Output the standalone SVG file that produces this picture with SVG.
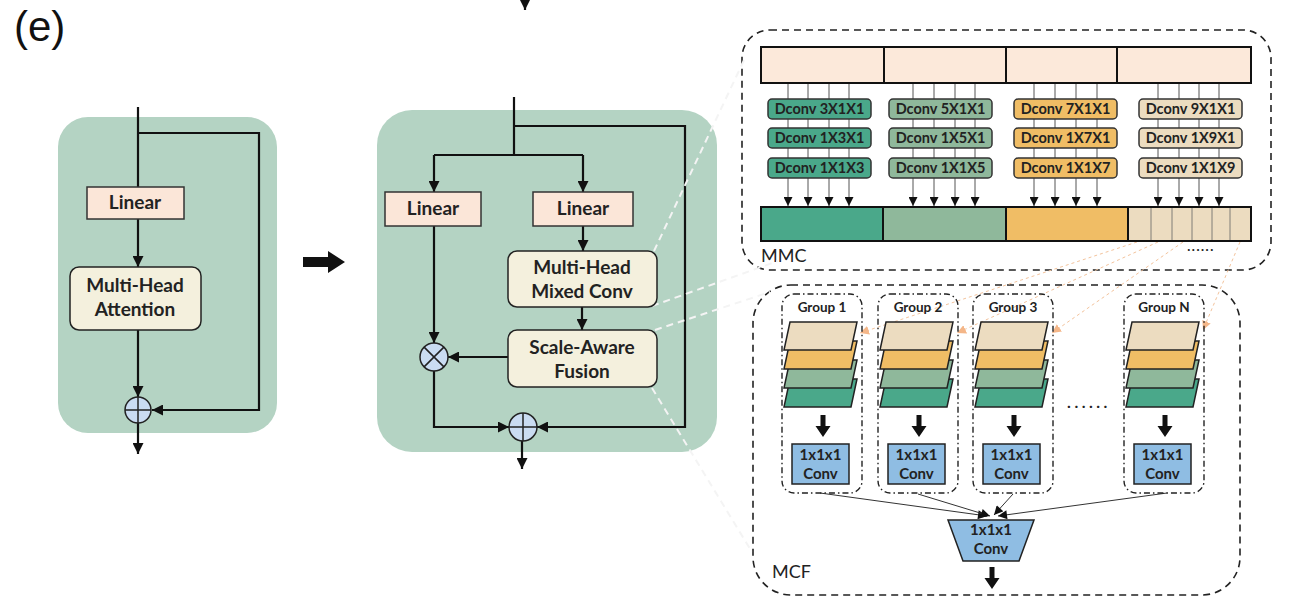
<svg xmlns="http://www.w3.org/2000/svg" width="1315" height="614" viewBox="0 0 1315 614">
<defs>
<style>
.panel{fill:#b4d3c3;}
.lin{fill:#fbe6d8;stroke:#333;stroke-width:1.5;}
.blk{fill:#f4f0dd;stroke:#222;stroke-width:1.5;}
.conn{fill:none;stroke:#111;stroke-width:2.2;}
.t{font-family:Lato,"Open Sans","Liberation Sans",sans-serif;font-weight:700;fill:#222;text-anchor:middle;}
.t18{font-size:19px;}
.t14{font-size:14.5px;}
.t13{font-size:15px;}
.t12{font-size:13.5px;}
.lab{font-family:Lato,"Open Sans","Liberation Sans",sans-serif;font-size:18px;fill:#222;}
.dash{fill:none;stroke:#222;stroke-width:1.6;stroke-dasharray:7 5;}
.dd{fill:none;stroke:#222;stroke-width:1.4;stroke-dasharray:6 3 1.5 3;}
.dc{stroke:#333;stroke-width:1.5;}
.c1{fill:#4aa88a;}
.c2{fill:#8fb89b;}
.c3{fill:#f0bd65;}
.c4{fill:#ecdcc0;}
.vl{stroke:#555;stroke-width:1;fill:none;}
.circ{fill:#cadcf2;stroke:#222;stroke-width:1.5;}
.cv{fill:#8fbde3;stroke:#222;stroke-width:1.5;}
.par{stroke:#222;stroke-width:1.5;}
.wd{fill:none;stroke:#f4f4f4;stroke-width:2;stroke-dasharray:7 5;}
.od{fill:none;stroke:#f3c39c;stroke-width:1;stroke-dasharray:3 3;}
.thin{fill:none;stroke:#333;stroke-width:1;}
</style>
<marker id="ah" viewBox="0 0 10 10" refX="10" refY="5" markerWidth="11" markerHeight="11" markerUnits="userSpaceOnUse" orient="auto"><path d="M0,0 L10,5 L0,10 z" fill="#111"/></marker>
<marker id="sh" viewBox="0 0 10 10" refX="10" refY="5" markerWidth="10" markerHeight="9" markerUnits="userSpaceOnUse" orient="auto"><path d="M0,0 L10,5 L0,10 z" fill="#111"/></marker>
<marker id="oh" viewBox="0 0 10 10" refX="10" refY="5" markerWidth="9" markerHeight="9" markerUnits="userSpaceOnUse" orient="auto"><path d="M0,0 L10,5 L0,10 z" fill="#f4b688"/></marker>
</defs>
<rect width="1315" height="614" fill="#ffffff"/>
<text x="14" y="41" font-family="Liberation Sans, Arial, sans-serif" font-size="42" fill="#111">(e)</text>

<g id="panel-left"><rect class="panel" x="58" y="117" width="219" height="316" rx="30"/></g>
<g id="panel-mid"><rect class="panel" x="377" y="110" width="340" height="342" rx="35"/></g>

<g id="big-arrow"><polygon points="303,257 328,257 328,251 345,262 328,273 328,267 303,267" fill="#111"/></g>

<g id="mmc-box">
<rect class="dash" x="742" y="30" width="529" height="240" rx="28"/>
<text class="lab" x="761" y="262">MMC</text>
<text class="t" x="1201" y="251" font-size="13" letter-spacing="1.5">......</text>
</g>
<g id="mcf-box">
<rect class="dash" x="753" y="285" width="487" height="310" rx="38"/>
<text class="lab" x="772" y="578">MCF</text>
<text class="t" x="1089" y="408" font-size="16" letter-spacing="3.5">......</text>
</g>

<g id="connectors">
<path class="conn" d="M138 107 V187"/>
<path class="conn" d="M138 133 H259 V410 H152" marker-end="url(#ah)"/>
<path class="conn" d="M138 219 V267" marker-end="url(#ah)"/>
<path class="conn" d="M138 330 V397" marker-end="url(#ah)"/>
<path class="conn" d="M138 423 V454" marker-end="url(#ah)"/>
<path class="conn" d="M525 0 V10" marker-end="url(#ah)"/>
<path class="conn" d="M514 97 V155"/>
<path class="conn" d="M514 126 H685 V427 H537" marker-end="url(#ah)"/>
<path class="conn" d="M434 155 H583"/>
<path class="conn" d="M434 155 V192" marker-end="url(#ah)"/>
<path class="conn" d="M583 155 V192" marker-end="url(#ah)"/>
<path class="conn" d="M583 226 V251" marker-end="url(#ah)"/>
<path class="conn" d="M582 307 V330" marker-end="url(#ah)"/>
<path class="conn" d="M434 226 V343" marker-end="url(#ah)"/>
<path class="conn" d="M508 357 H448" marker-end="url(#ah)"/>
<path class="conn" d="M434 371 V427 H509" marker-end="url(#ah)"/>
<path class="conn" d="M522 441 V469" marker-end="url(#ah)"/>
<path class="wd" d="M654 251 L745 58"/>
<path class="wd" d="M652 306 L778 261"/>
<path class="wd" d="M655 330 L770 292"/>
<path class="wd" d="M652 388 L752 552"/>
<g class="vl">
<path d="M788 83 V206" marker-end="url(#sh)"/><path d="M808 83 V206" marker-end="url(#sh)"/><path d="M829 83 V206" marker-end="url(#sh)"/><path d="M849 83 V206" marker-end="url(#sh)"/>
<path d="M913 83 V206" marker-end="url(#sh)"/><path d="M934 83 V206" marker-end="url(#sh)"/><path d="M955 83 V206" marker-end="url(#sh)"/><path d="M975 83 V206" marker-end="url(#sh)"/>
<path d="M1034 83 V206" marker-end="url(#sh)"/><path d="M1055 83 V206" marker-end="url(#sh)"/><path d="M1076 83 V206" marker-end="url(#sh)"/><path d="M1097 83 V206" marker-end="url(#sh)"/>
<path d="M1158 83 V206" marker-end="url(#sh)"/><path d="M1179 83 V206" marker-end="url(#sh)"/><path d="M1199 83 V206" marker-end="url(#sh)"/><path d="M1219 83 V206" marker-end="url(#sh)"/>
</g>
<path class="od" d="M1137 242 L860 333" marker-end="url(#oh)"/>
<path class="od" d="M1158 242 L957 333" marker-end="url(#oh)"/>
<path class="od" d="M1183 242 L1052 333" marker-end="url(#oh)"/>
<path class="od" d="M1240 242 L1203 330" marker-end="url(#oh)"/>
<path class="thin" d="M820 493 L987 516" marker-end="url(#sh)"/>
<path class="thin" d="M918 494 L990 516" marker-end="url(#sh)"/>
<path class="thin" d="M1013 494 L994 515" marker-end="url(#sh)"/>
<path class="thin" d="M1167 493 L998 516" marker-end="url(#sh)"/>
<polygon points="989.5,567 994.5,567 994.5,578 999.5,578 992,589 984.5,578 989.5,578" fill="#111"/>
</g>

<g id="left-linear"><rect class="lin" x="87" y="187" width="97" height="32"/><text class="t t18" x="135" y="209">Linear</text></g>
<g id="left-mha"><rect class="blk" x="70" y="267" width="131" height="63" rx="9"/><text class="t t18" x="135" y="292">Multi-Head</text><text class="t t18" x="135" y="316">Attention</text></g>
<g id="left-add"><circle class="circ" cx="138" cy="410" r="13"/><path d="M125 410 H151 M138 397 V423" stroke="#222" stroke-width="1.5"/></g>

<g id="mid-linear-l"><rect class="lin" x="385" y="192" width="96" height="34"/><text class="t t18" x="433" y="215">Linear</text></g>
<g id="mid-linear-r"><rect class="lin" x="533" y="192" width="100" height="34"/><text class="t t18" x="583" y="215">Linear</text></g>
<g id="mid-mhmc"><rect class="blk" x="508" y="251" width="149" height="56" rx="9"/><text class="t t18" x="582" y="274">Multi-Head</text><text class="t t18" x="582" y="298">Mixed Conv</text></g>
<g id="mid-saf"><rect class="blk" x="508" y="330" width="149" height="57" rx="9"/><text class="t t18" x="582" y="354">Scale-Aware</text><text class="t t18" x="582" y="378">Fusion</text></g>
<g id="mid-mul"><circle class="circ" cx="434" cy="357" r="14"/><path d="M424.1 347.1 L443.9 366.9 M443.9 347.1 L424.1 366.9" stroke="#222" stroke-width="1.5"/></g>
<g id="mid-add"><circle class="circ" cx="523" cy="427" r="14"/><path d="M509 427 H537 M523 413 V441" stroke="#222" stroke-width="1.5"/></g>

<g id="mmc-top">
<rect x="761" y="47" width="490" height="36" fill="#fce9da" stroke="#111" stroke-width="2"/>
<path d="M884 47 V83 M1006 47 V83 M1117 47 V83" stroke="#111" stroke-width="2"/>
</g>
<g id="mmc-dconv-1" class="t t14">
<rect class="dc c1" x="768" y="99" width="103" height="20" rx="4"/><text x="819.5" y="114">Dconv 3X1X1</text>
<rect class="dc c1" x="768" y="128" width="103" height="20" rx="4"/><text x="819.5" y="143">Dconv 1X3X1</text>
<rect class="dc c1" x="768" y="158" width="103" height="20" rx="4"/><text x="819.5" y="173">Dconv 1X1X3</text>
</g>
<g id="mmc-dconv-2" class="t t14">
<rect class="dc c2" x="889" y="99" width="103" height="20" rx="4"/><text x="940.5" y="114">Dconv 5X1X1</text>
<rect class="dc c2" x="889" y="128" width="103" height="20" rx="4"/><text x="940.5" y="143">Dconv 1X5X1</text>
<rect class="dc c2" x="889" y="158" width="103" height="20" rx="4"/><text x="940.5" y="173">Dconv 1X1X5</text>
</g>
<g id="mmc-dconv-3" class="t t14">
<rect class="dc c3" x="1014" y="99" width="103" height="20" rx="4"/><text x="1065.5" y="114">Dconv 7X1X1</text>
<rect class="dc c3" x="1014" y="128" width="103" height="20" rx="4"/><text x="1065.5" y="143">Dconv 1X7X1</text>
<rect class="dc c3" x="1014" y="158" width="103" height="20" rx="4"/><text x="1065.5" y="173">Dconv 1X1X7</text>
</g>
<g id="mmc-dconv-4" class="t t14">
<rect class="dc c4" x="1139" y="99" width="103" height="20" rx="4"/><text x="1190.5" y="114">Dconv 9X1X1</text>
<rect class="dc c4" x="1139" y="128" width="103" height="20" rx="4"/><text x="1190.5" y="143">Dconv 1X9X1</text>
<rect class="dc c4" x="1139" y="158" width="103" height="20" rx="4"/><text x="1190.5" y="173">Dconv 1X1X9</text>
</g>
<g id="mmc-bottom">
<rect class="c1" x="761" y="207" width="122" height="34"/>
<rect class="c2" x="883" y="207" width="123" height="34"/>
<rect class="c3" x="1006" y="207" width="122" height="34"/>
<rect class="c4" x="1128" y="207" width="123" height="34"/>
<path d="M1151 207 V241 M1172 207 V241 M1192 207 V241 M1212 207 V241 M1230 207 V241" stroke="#666" stroke-width="0.8"/>
<rect x="761" y="207" width="490" height="34" fill="none" stroke="#111" stroke-width="2"/>
<path d="M883 207 V241 M1006 207 V241 M1128 207 V241" stroke="#111" stroke-width="2"/>
</g>

<g id="group-1">
<rect class="dd" x="782" y="294" width="80" height="199" rx="12"/>
<text class="t t12" x="822" y="312">Group 1</text>
<polygon class="par c1" points="790,379 857,379 851,407 784,407"/>
<polygon class="par c2" points="790,360 857,360 851,388 784,388"/>
<polygon class="par c3" points="790,341 857,341 851,369 784,369"/>
<polygon class="par c4" points="790,322 857,322 851,350 784,350"/>
<polygon points="820.5,415 825.5,415 825.5,426 830.5,426 823,437 815.5,426 820.5,426" fill="#111"/>
<rect class="cv" x="792" y="444" width="57" height="40"/>
<text class="t t13" x="820.5" y="460">1x1x1</text><text class="t t13" x="820.5" y="479">Conv</text>
</g>
<g id="group-2" transform="translate(96,0)">
<rect class="dd" x="782" y="294" width="80" height="199" rx="12"/>
<text class="t t12" x="822" y="312">Group 2</text>
<polygon class="par c1" points="790,379 857,379 851,407 784,407"/>
<polygon class="par c2" points="790,360 857,360 851,388 784,388"/>
<polygon class="par c3" points="790,341 857,341 851,369 784,369"/>
<polygon class="par c4" points="790,322 857,322 851,350 784,350"/>
<polygon points="820.5,415 825.5,415 825.5,426 830.5,426 823,437 815.5,426 820.5,426" fill="#111"/>
<rect class="cv" x="792" y="444" width="57" height="40"/>
<text class="t t13" x="820.5" y="460">1x1x1</text><text class="t t13" x="820.5" y="479">Conv</text>
</g>
<g id="group-3" transform="translate(191,0)">
<rect class="dd" x="782" y="294" width="80" height="199" rx="12"/>
<text class="t t12" x="822" y="312">Group 3</text>
<polygon class="par c1" points="790,379 857,379 851,407 784,407"/>
<polygon class="par c2" points="790,360 857,360 851,388 784,388"/>
<polygon class="par c3" points="790,341 857,341 851,369 784,369"/>
<polygon class="par c4" points="790,322 857,322 851,350 784,350"/>
<polygon points="820.5,415 825.5,415 825.5,426 830.5,426 823,437 815.5,426 820.5,426" fill="#111"/>
<rect class="cv" x="792" y="444" width="57" height="40"/>
<text class="t t13" x="820.5" y="460">1x1x1</text><text class="t t13" x="820.5" y="479">Conv</text>
</g>
<g id="group-n" transform="translate(342,0)">
<rect class="dd" x="782" y="294" width="80" height="199" rx="12"/>
<text class="t t12" x="822" y="312">Group N</text>
<polygon class="par c1" points="790,379 857,379 851,407 784,407"/>
<polygon class="par c2" points="790,360 857,360 851,388 784,388"/>
<polygon class="par c3" points="790,341 857,341 851,369 784,369"/>
<polygon class="par c4" points="790,322 857,322 851,350 784,350"/>
<polygon points="820.5,415 825.5,415 825.5,426 830.5,426 823,437 815.5,426 820.5,426" fill="#111"/>
<rect class="cv" x="792" y="444" width="57" height="40"/>
<text class="t t13" x="820.5" y="460">1x1x1</text><text class="t t13" x="820.5" y="479">Conv</text>
</g>
<g id="mcf-fuse">
<polygon class="cv" points="948,520 1034,520 1019,561 963,561"/>
<text class="t t13" x="991" y="535">1x1x1</text><text class="t t13" x="991" y="554">Conv</text>
</g>
</svg>
